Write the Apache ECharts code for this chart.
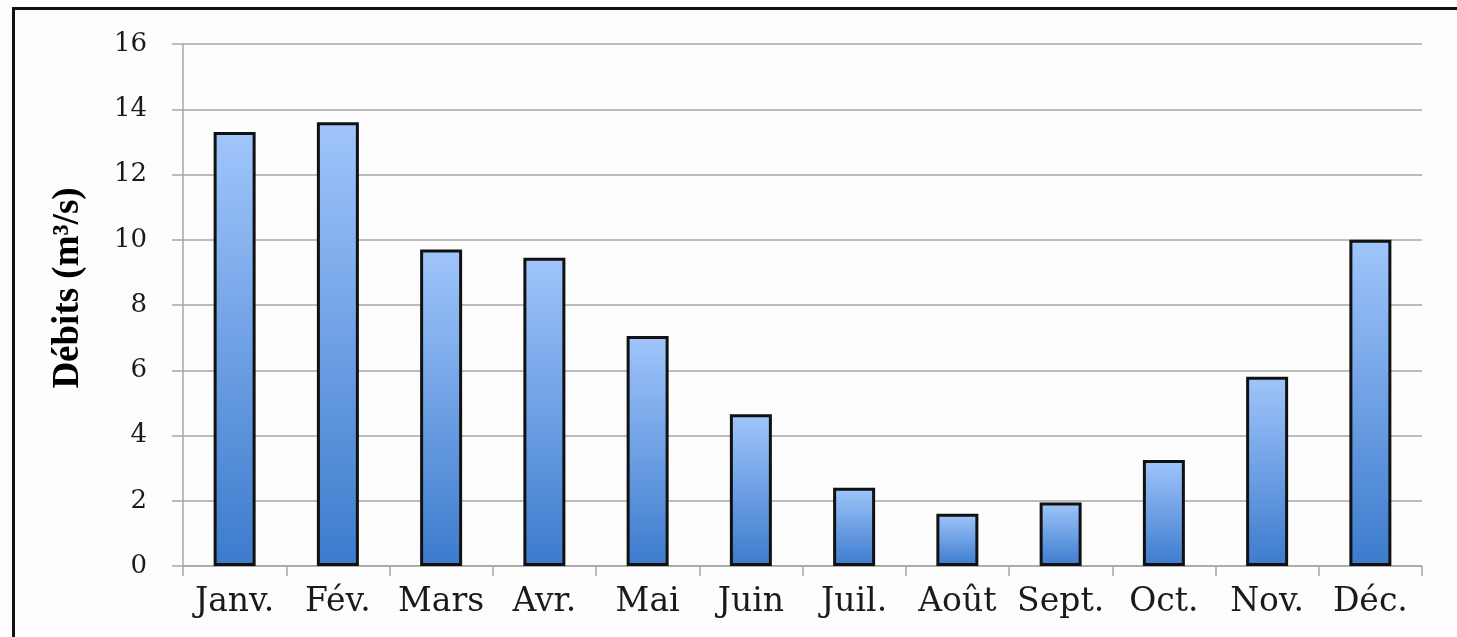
<!DOCTYPE html>
<html>
<head>
<meta charset="utf-8">
<script src="https://cdn.jsdelivr.net/npm/echarts@6/dist/echarts.min.js"></script>
<style>
html,body{margin:0;padding:0;background:#fdfdfd;}
#c{width:1457px;height:637px;}
</style>
</head>
<body>
<div id="c"></div>
<script>
var categories = ['Janv.', 'Fév.', 'Mars', 'Avr.', 'Mai', 'Juin', 'Juil.', 'Août', 'Sept.', 'Oct.', 'Nov.', 'Déc.'];
var debits = [13.3, 13.6, 9.7, 9.45, 7.05, 4.65, 2.4, 1.6, 1.95, 3.25, 5.8, 10.0];
var yTicks = [0, 2, 4, 6, 8, 10, 12, 14, 16];
var yTitle = 'Débits (m³/s)';

var chart = echarts.init(document.getElementById('c'));
var gray = '#a6a6a6';
chart.setOption({
  backgroundColor: '#fdfdfd',
  animation: false,
  grid: {left: 183, right: 35, top: 44, bottom: 71},
  graphic: [
    {type: 'rect', shape: {x: 13.5, y: 8.5, width: 1470, height: 660},
     style: {fill: 'none', stroke: '#111', lineWidth: 3}, silent: true},
    {type: 'text', x: 68, y: 288, rotation: Math.PI / 2,
     style: {text: yTitle, font: 'bold 37px "Liberation Serif"', fill: '#000',
             align: 'center', verticalAlign: 'middle'}}
  ],
  xAxis: {
    type: 'category',
    data: categories,
    boundaryGap: true,
    axisLine: {show: true, lineStyle: {color: gray, width: 1.5}},
    axisTick: {show: true, length: 10, lineStyle: {color: gray, width: 1.5}},
    axisLabel: {color: '#1a1a1a', fontFamily: 'DejaVu Serif', fontSize: 33, margin: 20, interval: 0}
  },
  yAxis: {
    type: 'value',
    min: yTicks[0], max: yTicks[yTicks.length - 1], interval: 2,
    axisLine: {show: true, lineStyle: {color: gray, width: 1.5}},
    axisTick: {show: true, length: 11, lineStyle: {color: gray, width: 1.5}},
    splitLine: {show: true, lineStyle: {color: gray, width: 1.5}},
    axisLabel: {color: '#1a1a1a', fontFamily: 'DejaVu Serif', fontSize: 26, margin: 36}
  },
  series: [{
    type: 'bar',
    data: debits,
    barWidth: 42,
    itemStyle: {
      borderColor: '#111', borderWidth: 3,
      color: new echarts.graphic.LinearGradient(0, 0, 0, 1, [
        {offset: 0, color: '#a0c5fb'},
        {offset: 1, color: '#3c7bcd'}
      ])
    }
  }]
});
</script>
</body>
</html>
